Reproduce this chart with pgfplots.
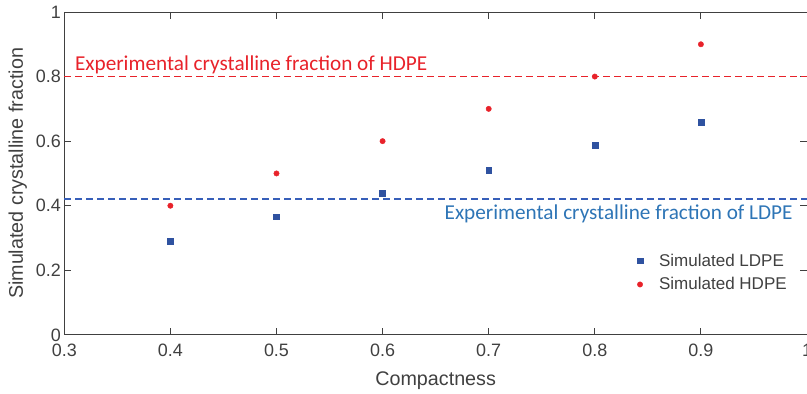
\documentclass[border=0pt]{standalone}
\usepackage{pgfplots}
\pgfplotsset{compat=1.18}
\usepackage{fontspec}
\setmainfont{Liberation Sans}
\newfontfamily\calfont{Carlito}
\usetikzlibrary{calc}
\definecolor{axgray}{RGB}{64,64,64}
\definecolor{ldpe}{RGB}{47,82,160}
\definecolor{blueline}{RGB}{55,95,185}
\definecolor{hdpe}{RGB}{232,34,42}
\definecolor{ldpetext}{RGB}{46,117,182}
\begin{document}
\begin{tikzpicture}
\begin{axis}[name=ax,
  scale only axis, width=743bp, height=323bp,
  xmin=0.3, xmax=1, ymin=0, ymax=1,
  xtick={0.3,0.4,0.5,0.6,0.7,0.8,0.9,1},
  ytick={0,0.2,0.4,0.6,0.8,1},
  /pgf/number format/assume math mode=true,
  tick label style={font=\fontsize{18}{21}\selectfont, text=axgray},
  xticklabel style={yshift=-6bp},
  label style={font=\fontsize{19.8}{23}\selectfont, text=axgray},
  xlabel style={at={(axis description cs:0.5,0)}, anchor=base, yshift=-51bp},
  ylabel style={at={(axis description cs:-0.0626,0.5)}, anchor=center},
  axis line style={axgray, line width=0.9bp},
  major tick style={axgray, line width=0.9bp},
  major tick length=7bp,
  tick align=inside,
  xlabel={Compactness},
  ylabel={Simulated crystalline fraction},
  legend style={draw=none, fill=none, font=\fontsize{17.1}{20}\selectfont, text=axgray,
    at={(axis cs:0.8368,0.193)}, anchor=west, row sep=6bp},
  legend image code/.code={\path[draw=none, fill=none] (-3bp,-3bp) rectangle (17bp,3bp);
    \draw[#1] plot coordinates {(0bp,0bp)};},
  legend cell align=left,
  clip=false,
]
\addplot[only marks, mark=square*, mark size=2.9bp, color=ldpe] coordinates {
(0.4,0.29) (0.5,0.366) (0.6,0.44) (0.7,0.511) (0.8,0.588) (0.9,0.658)};
\addlegendentry{Simulated LDPE}
\addplot[only marks, mark=*, mark size=2.7bp, color=hdpe] coordinates {
(0.4,0.40) (0.5,0.50) (0.6,0.60) (0.7,0.70) (0.8,0.80) (0.9,0.90)};
\addlegendentry{Simulated HDPE}
\addplot[forget plot, color=hdpe, line width=1.6bp, dash pattern=on 7bp off 4bp] coordinates {(0.3,0.8) (1,0.8)};
\addplot[forget plot, color=blueline, line width=1.6bp, dash pattern=on 7bp off 4bp] coordinates {(0.3,0.42) (1,0.42)};
\node[anchor=base west, inner sep=0pt, text=hdpe, font=\calfont\fontsize{21.3}{25}\selectfont] at (axis cs:0.31,0.8186) {Experimental crystalline fraction of HDPE};
\node[anchor=base east, inner sep=0pt, text=ldpetext, font=\calfont\fontsize{21.3}{25}\selectfont] at (axis cs:0.9866,0.356) {Experimental crystalline fraction of LDPE};
\end{axis}
\pgfresetboundingbox
\path[use as bounding box] ($(ax.south west)+(-64.3bp,-59bp)$) rectangle ($(ax.north east)+(0,12bp)$);
\end{tikzpicture}
\end{document}
